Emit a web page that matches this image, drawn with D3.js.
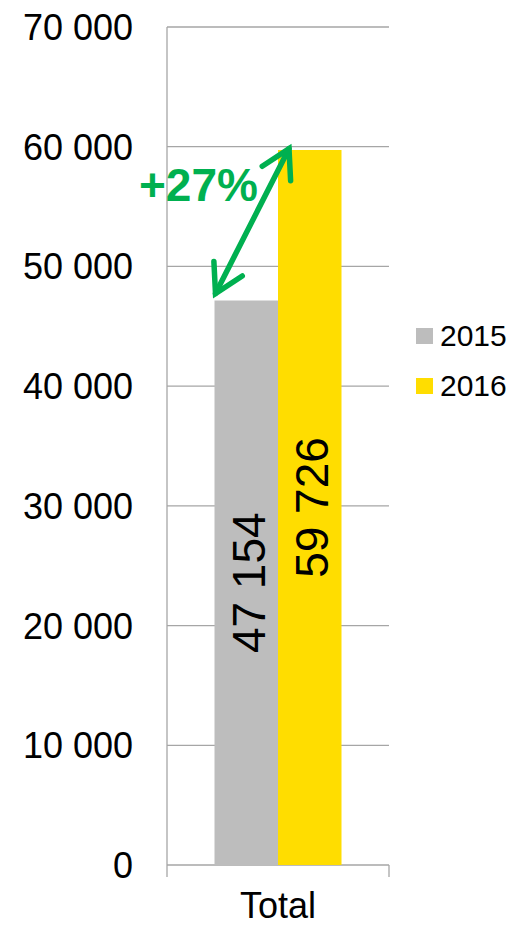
<!DOCTYPE html>
<html>
<head>
<meta charset="utf-8">
<script src="https://cdn.jsdelivr.net/npm/d3@7"></script>
<style>
  body { margin: 0; background: #fff; }
  text { font-family: "Liberation Sans", Arial, sans-serif; }
</style>
</head>
<body>
<script>
'use strict'

const categories = ['Total'];
const years = ['2015', '2016'];
const values2015 = [47154];
const values2016 = [59726];
const yTicks = [0, 10000, 20000, 30000, 40000, 50000, 60000, 70000];
const growthLabel = '+27%';
const colors = {'2015': '#BDBDBD', '2016': '#FFDD00'};

const W = 514, H = 925,
      margin = {top: 27, right: 125, bottom: 60, left: 167},
      width = W - margin.left - margin.right,
      height = H - margin.top - margin.bottom;

const fmt = v => d3.format(',')(v).replace(/,/g, ' ');

const svg = d3.select('body').append('svg')
  .attr('width', W)
  .attr('height', H);

const g = svg.append('g')
  .attr('transform', 'translate(' + [margin.left, margin.top] + ')');

const y = d3.scaleLinear().domain([0, 70000]).range([height, 0]);
const x0 = d3.scaleBand().domain(categories).range([0, width]).paddingOuter(0.374).paddingInner(0);
const x1 = d3.scaleBand().domain(years).range([0, x0.bandwidth()]);

// gridlines
g.append('g')
  .selectAll('line')
  .data(yTicks)
  .enter()
  .append('line')
  .attr('x1', 0).attr('x2', width)
  .attr('y1', d => y(d)).attr('y2', d => y(d))
  .attr('stroke', '#a6a6a6')
  .attr('stroke-width', 1.3);

// axes lines
g.append('line')
  .attr('x1', 0).attr('x2', 0)
  .attr('y1', 0).attr('y2', height + 12)
  .attr('stroke', '#a6a6a6').attr('stroke-width', 1.3);
g.append('line')
  .attr('x1', width).attr('x2', width)
  .attr('y1', height).attr('y2', height + 12)
  .attr('stroke', '#a6a6a6').attr('stroke-width', 1.3);

// y tick labels
g.append('g')
  .selectAll('text')
  .data(yTicks)
  .enter()
  .append('text')
  .attr('x', -34)
  .attr('y', d => y(d))
  .attr('dy', '0.36em')
  .attr('text-anchor', 'end')
  .attr('font-size', 36)
  .attr('fill', '#000')
  .text(fmt);

// bars
const rows = categories.map((c, i) => ({cat: c, vals: [
  {year: '2015', value: values2015[i]},
  {year: '2016', value: values2016[i]}
]}));

const grp = g.selectAll('.grp')
  .data(rows)
  .enter()
  .append('g')
  .attr('class', 'grp')
  .attr('transform', d => 'translate(' + [x0(d.cat), 0] + ')');

grp.selectAll('rect')
  .data(d => d.vals)
  .enter()
  .append('rect')
  .attr('x', d => x1(d.year))
  .attr('width', x1.bandwidth())
  .attr('y', d => y(d.value))
  .attr('height', d => height - y(d.value))
  .attr('fill', d => colors[d.year]);

grp.selectAll('.lbl')
  .data(d => d.vals)
  .enter()
  .append('text')
  .attr('class', 'lbl')
  .attr('transform', d => {
    const cx = x1(d.year) + x1.bandwidth() / 2 + 2;
    const cy = (y(d.value) + height) / 2;
    return 'translate(' + [cx, cy] + ') rotate(-90)';
  })
  .attr('text-anchor', 'middle')
  .attr('dy', '0.36em')
  .attr('font-size', 46)
  .attr('fill', '#000')
  .text(d => fmt(d.value));

// category label
g.selectAll('.cat')
  .data(categories)
  .enter()
  .append('text')
  .attr('class', 'cat')
  .attr('x', d => x0(d) + x0.bandwidth() / 2)
  .attr('y', height + 53)
  .attr('text-anchor', 'middle')
  .attr('font-size', 36)
  .attr('fill', '#000')
  .text(d => d);

// growth arrow
const green = '#00B050';
const ax1 = x0('Total') + x1('2015') + 1, ay1 = y(values2015[0]) - 7;
const ax2 = x0('Total') + x1('2016') + 11, ay2 = y(60000) + 2;
const ang = Math.atan2(ay2 - ay1, ax2 - ax1);
const headLen = 32, headAng = 0.52;
const arrow = g.append('g')
  .attr('stroke', green)
  .attr('stroke-width', 5.5)
  .attr('stroke-linecap', 'round')
  .attr('fill', 'none');
arrow.append('line')
  .attr('x1', ax1).attr('y1', ay1)
  .attr('x2', ax2).attr('y2', ay2);
const head = (px, py, a) => {
  const p = d3.path();
  p.moveTo(px - headLen * Math.cos(a - headAng), py - headLen * Math.sin(a - headAng));
  p.lineTo(px, py);
  p.lineTo(px - headLen * Math.cos(a + headAng), py - headLen * Math.sin(a + headAng));
  return p.toString();
};
arrow.append('path').attr('d', head(ax2, ay2, ang)).attr('stroke-linejoin', 'miter');
arrow.append('path').attr('d', head(ax1, ay1, ang + Math.PI)).attr('stroke-linejoin', 'miter');

g.append('text')
  .attr('x', -28)
  .attr('y', y(60000) + 54)
  .attr('font-size', 46)
  .attr('font-weight', 'bold')
  .attr('fill', green)
  .text(growthLabel);

// legend
const legend = svg.append('g')
  .attr('transform', 'translate(' + [416, 328] + ')');
const li = legend.selectAll('g')
  .data(years)
  .enter()
  .append('g')
  .attr('transform', (d, i) => 'translate(' + [0, i * 50] + ')');
li.append('rect')
  .attr('width', 17).attr('height', 16)
  .attr('fill', d => colors[d]);
li.append('text')
  .attr('x', 24)
  .attr('y', 18)
  .attr('font-size', 30)
  .attr('fill', '#000')
  .text(d => d);
</script>
</body>
</html>
